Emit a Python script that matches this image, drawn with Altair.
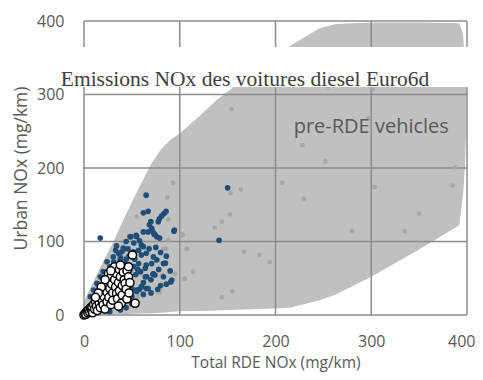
import altair as alt
import pandas as pd

# Grey envelope of pre-RDE vehicles (x, upper, lower)
area_x = [0, 15, 30, 45, 57, 70, 80, 90, 100, 120, 138, 156, 185, 215, 246, 263, 300, 350, 392, 395, 396, 398, 399, 399.5]
area_up = [18, 60, 98, 140, 172, 205, 225, 238, 247, 270, 292, 310, 340, 366, 390, 396, 398, 398, 397, 386, 379, 345, 313, 280]
area_lo = [0, 0.5, 1, 1.5, 2, 2.5, 3, 4, 5, 5.5, 6, 7, 8, 10, 20, 28, 52, 89, 122, 155, 165, 204, 250, 280]

grey_x = [154, 228, 252, 153, 164, 207, 229.5, 152.5, 144, 136.5, 103, 108, 167, 183, 194, 114, 105, 155, 144,
          255, 301, 297, 387.5, 303.5, 385, 350, 280, 335, 93, 87, 55, 88, 88, 83, 95, 82, 64.5, 63, 79, 56, 43,
          102, 86, 77, 107, 105.5]
grey_y = [280, 231, 209, 166, 171, 180, 158, 137, 127, 119, 109, 90, 86, 82, 72, 59, 49, 32, 24,
          311, 307, 268, 201, 174, 176, 138, 114, 114, 180, 160, 134, 130, 102, 90, 56, 54.5, 64, 45, 31, 25, 11,
          110, 90, 32, 90, 50]

blue_x = [64.9, 17, 62, 67, 85.7, 83.6, 81, 78.7, 77.6, 69.8, 68.3, 70.8, 71.8, 73.2, 62, 54.5, 48, 94.4, 76, 141, 150,
          60, 34, 41, 51.6, 62, 65, 72.5, 76, 83, 70.7, 65, 72.5, 83, 90.6, 64, 59, 48, 45, 50, 55, 40, 32.6, 27, 38,
          24, 27, 30.6, 36, 37.8, 20, 17, 13.5, 10, 6.6, 35.5,
          94, 67, 55, 39.5, 42, 57, 60, 64, 74, 91.7, 65.6, 60, 67, 55, 50,
          85, 72, 65, 58, 77, 79, 74, 49,
          44, 52, 58, 47, 53, 57, 68, 75, 80, 86, 90, 78, 70, 62, 54, 48, 42, 30, 28, 22, 18, 25, 44, 50, 62, 70, 80, 86,
          33, 38, 46, 52, 56, 31, 44]
blue_y = [163, 104.6, 139, 141, 141, 138, 134.7, 131, 127, 127, 122.7, 118, 113.6, 110, 113, 108.5, 106.5, 115.6, 106.5, 101.6, 173,
          95, 94, 91, 86, 93, 84, 79, 75, 70, 70, 68, 56, 52, 45, 52, 59, 47.6, 34, 36, 34, 22.7, 13.6, 4.5, 6.8,
          72.5, 65.7, 79, 84, 75, 59, 52, 43, 34, 25, 34,
          114, 113, 106.5, 86, 90, 88, 81.6, 63.5, 54.4, 47.6, 52, 38.5, 36, 32, 25,
          70.5, 55.5, 36, 35, 35, 104.6, 109.7, 106.6,
          100, 98, 101, 80, 76, 70, 90, 92, 85, 80, 60, 62, 48, 44, 55, 62, 70, 40, 50, 30, 20, 25, 10, 15, 28, 30, 40, 42,
          88, 78, 90, 66, 62, 72, 76]

white_x = [0, 1, 3, 2, 4, 5, 6, 7, 8, 8.3, 9, 10, 11, 12, 13, 14, 15, 16, 17, 18, 19, 20, 20, 21, 22, 23, 24, 24,
           25.6, 26, 26, 27, 28, 28, 29, 30, 30, 31, 32, 32, 33, 34, 34, 35, 36, 37, 37, 38, 39, 40, 40, 41, 42, 43,
           44, 44.8, 45, 46.5, 46.5, 47, 48, 50.6, 53.4, 38, 28, 22, 18, 15, 12, 36]
white_y = [0, 2, 5, 1, 3, 7, 4, 10, 6, 11, 3, 14, 8, 18, 12, 6, 22, 16, 10, 28, 20, 14, 36, 25, 8, 40, 18, 31,
           56.7, 46, 24, 36, 14, 52, 42, 30, 20, 60, 65.7, 48, 38, 29.5, 56, 22, 44, 62, 33, 52, 16, 40, 27, 58, 48, 43,
           35, 21.8, 60, 65.7, 52, 30, 44, 81.6, 16, 68, 60, 48, 38, 30, 24, 12]

ticks = [0, 100, 200, 300, 400]

title_text = "Emissions NOx des voitures diesel Euro6d"
annot_text = "pre-RDE vehicles"

W, H = 383, 294
LBL = "#595959"
GRID = "#8c8c8c"
FONT = "Open Sans"

xs = alt.Scale(domain=[0, 400], nice=False)
ys = alt.Scale(domain=[0, 400], nice=False)
xaxis = alt.Axis(values=ticks, grid=False, domain=False, ticks=False, labelFont=FONT, labelFontSize=16,
                 labelColor=LBL, labelPadding=18, labelFlush=False,
                 labelAlign=alt.condition("datum.value == 400", alt.value("right"), alt.value("center")),
                 labelOffset=alt.condition("datum.value == 400", alt.value(8), alt.value(0)),
                 title="Total RDE NOx (mg/km)", titleFont=FONT,
                 titleFontSize=15.5, titleFontWeight="normal", titleColor=LBL, titlePadding=6)
yaxis = alt.Axis(values=ticks, grid=False, domain=False, ticks=False, labelFont=FONT, labelFontSize=16,
                 labelColor=LBL, labelPadding=20, labelFlush=False, title="Urban NOx (mg/km)", titleFont=FONT,
                 titleFontSize=17.5, titleFontWeight="normal", titleColor=LBL, titlePadding=6)

area_df = pd.DataFrame({"x": area_x, "up": area_up, "lo": area_lo})
area = alt.Chart(area_df).mark_area(color="#c0c0c0", opacity=1).encode(
    x=alt.X("x:Q", scale=xs, axis=xaxis),
    y=alt.Y("lo:Q", scale=ys, axis=yaxis),
    y2="up:Q",
)

tick_df = pd.DataFrame({"t": ticks})
vgrid = alt.Chart(tick_df).mark_rule(color=GRID, strokeWidth=1.5).encode(
    x=alt.X("t:Q", scale=xs, axis=xaxis), y=alt.value(0), y2=alt.value(H))
hgrid = alt.Chart(tick_df).mark_rule(color=GRID, strokeWidth=1.5).encode(
    y=alt.Y("t:Q", scale=ys, axis=yaxis), x=alt.value(0), x2=alt.value(W))

grey = alt.Chart(pd.DataFrame({"x": grey_x, "y": grey_y})).mark_circle(
    color="#a6a6a6", size=22, opacity=1).encode(
    x=alt.X("x:Q", scale=xs, axis=xaxis), y=alt.Y("y:Q", scale=ys, axis=yaxis))
blue = alt.Chart(pd.DataFrame({"x": blue_x, "y": blue_y})).mark_circle(
    color="#1f4e79", size=32, opacity=1).encode(
    x=alt.X("x:Q", scale=xs, axis=xaxis), y=alt.Y("y:Q", scale=ys, axis=yaxis))
white = alt.Chart(pd.DataFrame({"x": white_x, "y": white_y})).mark_point(
    shape="circle", filled=True, fill="white", stroke="black", strokeWidth=1.5, size=66, opacity=1).encode(
    x=alt.X("x:Q", scale=xs, axis=xaxis), y=alt.Y("y:Q", scale=ys, axis=yaxis))

annot = alt.Chart(pd.DataFrame({"x": [300], "y": [248], "t": [annot_text]})).mark_text(
    font=FONT, fontSize=20, color=LBL, align="center", baseline="alphabetic").encode(
    x=alt.X("x:Q", scale=xs, axis=xaxis), y=alt.Y("y:Q", scale=ys, axis=yaxis), text="t:N")

band = alt.Chart(pd.DataFrame({"t": [title_text]})).mark_rect(color="white").encode(
    x=alt.value(-90), x2=alt.value(W + 20), y=alt.value(26), y2=alt.value(66))
title = alt.Chart(pd.DataFrame({"t": [title_text]})).mark_text(
    font="Liberation Serif", fontSize=21.5, color="#404040", align="center", baseline="alphabetic").encode(
    x=alt.value(161), y=alt.value(65), text="t:N")

chart = alt.layer(area, vgrid, hgrid, grey, blue, white, annot, band, title).properties(
    width=W, height=H, autosize="none",
    padding={"left": 76, "top": 13, "right": 8, "bottom": 57},
).configure_view(stroke=None)

chart.save("out.html", embed_options={"renderer": "svg", "actions": False})
